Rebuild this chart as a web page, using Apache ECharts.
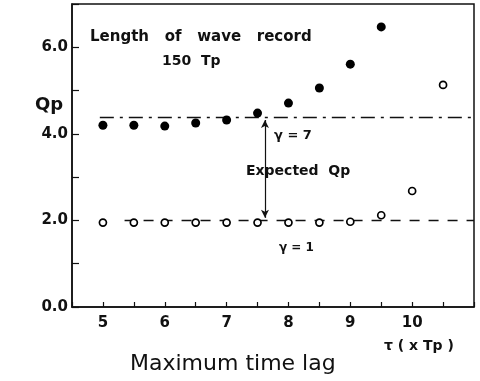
<!DOCTYPE html>
<html>
<head>
<meta charset="utf-8">
<script src="https://cdn.jsdelivr.net/npm/echarts@6/dist/echarts.min.js"></script>
<style>
    html, body { margin: 0; padding: 0; background: #fff; }
    #chart { width: 480px; height: 381px; }
</style>
</head>
<body>
<div id="chart"></div>
<script>
// maximum time lag (x Tp)
var lagFilled = [5, 5.5, 6, 6.5, 7, 7.5, 8, 8.5, 9, 9.5];
var qpGamma7 = [4.2, 4.2, 4.18, 4.25, 4.32, 4.48, 4.71, 5.06, 5.61, 6.47];
var lagHollow = [5, 5.5, 6, 6.5, 7, 7.5, 8, 8.5, 9, 9.5, 10, 10.5];
var qpGamma1 = [1.95, 1.95, 1.95, 1.95, 1.95, 1.95, 1.95, 1.95, 1.97, 2.12, 2.68, 5.13];
// expected Qp levels
var expectedGamma7 = 4.38;
var expectedGamma1 = 2.0;

function pairs(xs, ys) {
    var out = [];
    for (var i = 0; i < xs.length; i++) {
        out.push([xs[i], ys[i]]);
    }
    return out;
}

var chart = echarts.init(document.getElementById('chart'));
var font = 'DejaVu Sans';

var option = {
    animation: false,
    backgroundColor: '#fff',
    grid: {
        left: 72, right: 6, top: 4, bottom: 74,
        show: true,
        borderColor: '#111',
        borderWidth: 1.5
    },
    xAxis: {
        type: 'value',
        min: 4.5,
        max: 11,
        interval: 0.5,
        axisLine: { lineStyle: { color: '#111', width: 1.5 } },
        axisTick: { inside: true, length: 5, lineStyle: { color: '#111', width: 1.2 } },
        splitLine: { show: false },
        axisLabel: {
            color: '#111',
            fontFamily: font,
            fontWeight: 'bold',
            fontSize: 15,
            margin: 9,
            formatter: function (v) {
                if (v % 1 === 0 && v >= 5 && v <= 10) return String(v);
                return '';
            }
        }
    },
    yAxis: {
        type: 'value',
        min: 0,
        max: 7,
        interval: 1,
        axisLine: { lineStyle: { color: '#111', width: 1.5 } },
        axisTick: { inside: true, length: 7, lineStyle: { color: '#111', width: 1.2 } },
        splitLine: { show: false },
        axisLabel: {
            color: '#111',
            fontFamily: font,
            fontWeight: 'bold',
            fontSize: 15,
            margin: 4,
            formatter: function (v) {
                if (v % 2 === 0 && v < 7) return v.toFixed(1);
                return '';
            }
        }
    },
    series: [
        {
            name: 'gamma7',
            type: 'scatter',
            symbol: 'circle',
            symbolSize: 9,
            itemStyle: { color: '#000', opacity: 1 },
            data: pairs(lagFilled, qpGamma7),
            z: 5,
            markLine: {
                silent: true,
                symbol: 'none',
                label: { show: false },
                lineStyle: { color: '#111', width: 1.3, type: [14, 6, 3, 6] },
                data: [[{ coord: [4.95, expectedGamma7] }, { coord: [11, expectedGamma7] }]]
            }
        },
        {
            name: 'gamma1',
            type: 'scatter',
            symbol: 'circle',
            symbolSize: 7,
            itemStyle: { color: '#fff', borderColor: '#000', borderWidth: 1.7, opacity: 1 },
            data: pairs(lagHollow, qpGamma1),
            z: 5,
            markLine: {
                silent: true,
                symbol: 'none',
                label: { show: false },
                lineStyle: { color: '#111', width: 1.3, type: [10, 9] },
                data: [[{ coord: [5.35, expectedGamma1] }, { coord: [11, expectedGamma1] }]]
            }
        },
        {
            // arrow between the two expected levels
            name: 'arrow',
            type: 'line',
            data: [],
            markLine: {
                silent: true,
                symbol: ['arrow', 'arrow'],
                symbolSize: [6, 8],
                label: { show: false },
                lineStyle: { color: '#111', width: 1.2, type: 'solid' },
                data: [[{ coord: [7.62, expectedGamma7 - 0.06] }, { coord: [7.62, expectedGamma1 + 0.06] }]]
            }
        }
    ],
    graphic: [
        { type: 'text', left: 90, top: 30, style: { text: 'Length   of   wave   record', font: 'bold 15px ' + font, fill: '#111' } },
        { type: 'text', left: 162, top: 54, style: { text: '150  Tp', font: 'bold 14px ' + font, fill: '#111' } },
        { type: 'text', left: 35, top: 96, style: { text: 'Qp', font: 'bold 18px ' + font, fill: '#111' } },
        { type: 'text', left: 274, top: 129, style: { text: 'γ = 7', font: 'bold 13px ' + font, fill: '#111' } },
        { type: 'text', left: 246, top: 164, style: { text: 'Expected  Qp', font: 'bold 14px ' + font, fill: '#111' } },
        { type: 'text', left: 279, top: 242, style: { text: 'γ = 1', font: 'bold 12px ' + font, fill: '#111' } },
        { type: 'text', left: 384, top: 339, style: { text: 'τ ( x Tp )', font: 'bold 14px ' + font, fill: '#111' } },
        { type: 'text', left: 130, top: 353, style: { text: 'Maximum time lag', font: '22px ' + font, fill: '#111' } }
    ]
};

chart.setOption(option);
</script>
</body>
</html>
